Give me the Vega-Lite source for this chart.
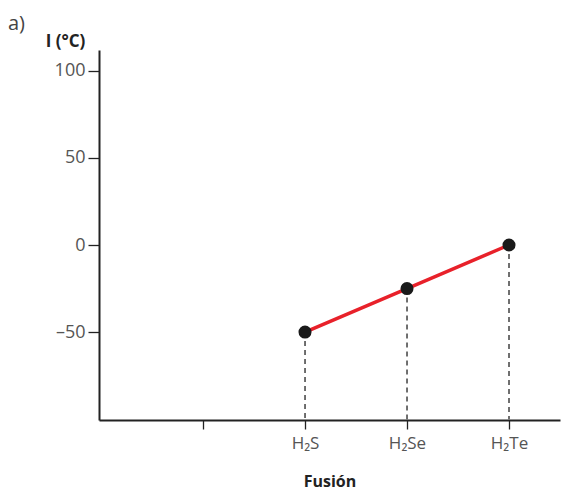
{
  "$schema": "https://vega.github.io/schema/vega-lite/v6.json",
  "width": 461,
  "height": 370,
  "autosize": "none",
  "padding": {"left": 99, "top": 50, "right": 2, "bottom": 72},
  "background": "white",
  "title": {"text": "a)", "anchor": "start", "frame": "group", "orient": "top", "dx": -91, "offset": -18, "baseline": "alphabetic", "font": "Open Sans", "fontSize": 20, "fontWeight": "normal", "color": "#444"},
  "config": {"view": {"stroke": null}},
  "data": {"values": [
    {"compound": "H₂S", "pos": 2, "temp": -50, "base": -100},
    {"compound": "H₂Se", "pos": 3, "temp": -25, "base": -100},
    {"compound": "H₂Te", "pos": 4, "temp": 0, "base": -100}
  ]},
  "encoding": {
    "x": {"field": "pos", "type": "quantitative",
      "scale": {"domain": [-0.02, 4.5], "nice": false, "zero": false},
      "axis": {"values": [1, 2, 3, 4], "grid": false, "domainColor": "#222", "domainWidth": 2, "tickColor": "#222", "tickWidth": 1.3, "tickSize": 9, "labelPadding": 6,
        "labelExpr": "datum.value == 2 ? 'H₂S' : datum.value == 3 ? 'H₂Se' : datum.value == 4 ? 'H₂Te' : ''",
        "labelFont": "Open Sans", "labelFontSize": 17, "labelColor": "#555",
        "title": "Fusión", "titleFont": "Open Sans", "titleFontSize": 16, "titleFontWeight": "bold", "titleColor": "#222", "titlePadding": 22}},
    "y": {"field": "temp", "type": "quantitative",
      "scale": {"domain": [-100.5, 112], "nice": false, "zero": false},
      "axis": {"values": [-50, 0, 50, 100], "grid": false, "domainColor": "#222", "domainWidth": 2, "tickColor": "#222", "tickWidth": 1.3, "tickSize": 11, "labelPadding": 3,
        "labelExpr": "replace(datum.label, /[-−]/, '–')",
        "labelFont": "Open Sans", "labelFontSize": 18, "labelColor": "#555",
        "title": "I (°C)", "titleAngle": 0, "titleAlign": "center", "titleBaseline": "alphabetic", "titleX": -34, "titleY": -4,
        "titleFont": "Open Sans", "titleFontSize": 17, "titleFontWeight": "bold", "titleColor": "#222"}}
  },
  "layer": [
    {"mark": {"type": "rule", "color": "#111", "strokeWidth": 1.2, "strokeDash": [5, 4]},
     "encoding": {"y2": {"field": "base"}}},
    {"mark": {"type": "line", "color": "#e8212a", "strokeWidth": 3.5}},
    {"mark": {"type": "point", "filled": true, "color": "#1a1a1a", "size": 170, "opacity": 1}}
  ]
}
